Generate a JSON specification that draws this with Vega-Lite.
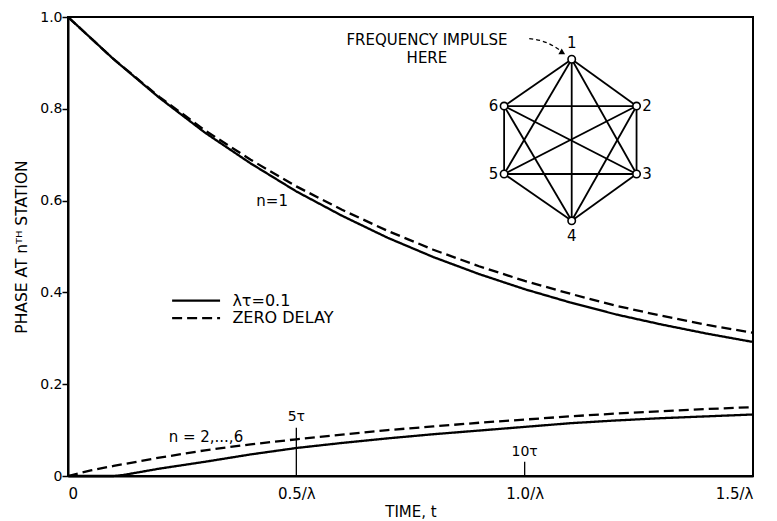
{
  "$schema": "https://vega.github.io/schema/vega-lite/v6.json",
  "width": 685,
  "height": 459,
  "autosize": "none",
  "padding": {"left": 68, "top": 17, "right": 24, "bottom": 45},
  "background": "white",
  "config": {
    "font": "DejaVu Sans",
    "view": {"stroke": "black", "strokeWidth": 2},
    "axis": {
      "domainColor": "black", "domainWidth": 2,
      "labelColor": "black", "titleColor": "black",
      "labelFont": "DejaVu Sans", "titleFont": "DejaVu Sans",
      "labelFontSize": 14, "titleFontSize": 14, "titleFontWeight": "normal",
      "grid": false
    }
  },
  "datasets": {
    "curves": [
      {"t": 0.0, "v": 1.0, "n": "1", "delay": "ZERO DELAY"},
      {"t": 0.1, "v": 0.908, "n": "1", "delay": "ZERO DELAY"},
      {"t": 0.2, "v": 0.826, "n": "1", "delay": "ZERO DELAY"},
      {"t": 0.3, "v": 0.753, "n": "1", "delay": "ZERO DELAY"},
      {"t": 0.4, "v": 0.689, "n": "1", "delay": "ZERO DELAY"},
      {"t": 0.5, "v": 0.631, "n": "1", "delay": "ZERO DELAY"},
      {"t": 0.6, "v": 0.580, "n": "1", "delay": "ZERO DELAY"},
      {"t": 0.7, "v": 0.534, "n": "1", "delay": "ZERO DELAY"},
      {"t": 0.8, "v": 0.493, "n": "1", "delay": "ZERO DELAY"},
      {"t": 0.9, "v": 0.457, "n": "1", "delay": "ZERO DELAY"},
      {"t": 1.0, "v": 0.425, "n": "1", "delay": "ZERO DELAY"},
      {"t": 1.1, "v": 0.397, "n": "1", "delay": "ZERO DELAY"},
      {"t": 1.2, "v": 0.371, "n": "1", "delay": "ZERO DELAY"},
      {"t": 1.3, "v": 0.349, "n": "1", "delay": "ZERO DELAY"},
      {"t": 1.4, "v": 0.329, "n": "1", "delay": "ZERO DELAY"},
      {"t": 1.5, "v": 0.312, "n": "1", "delay": "ZERO DELAY"},
      {"t": 0.0, "v": 1.0, "n": "1", "delay": "λτ=0.1"},
      {"t": 0.1, "v": 0.908, "n": "1", "delay": "λτ=0.1"},
      {"t": 0.2, "v": 0.824, "n": "1", "delay": "λτ=0.1"},
      {"t": 0.3, "v": 0.748, "n": "1", "delay": "λτ=0.1"},
      {"t": 0.4, "v": 0.681, "n": "1", "delay": "λτ=0.1"},
      {"t": 0.5, "v": 0.620, "n": "1", "delay": "λτ=0.1"},
      {"t": 0.6, "v": 0.567, "n": "1", "delay": "λτ=0.1"},
      {"t": 0.7, "v": 0.519, "n": "1", "delay": "λτ=0.1"},
      {"t": 0.8, "v": 0.477, "n": "1", "delay": "λτ=0.1"},
      {"t": 0.9, "v": 0.440, "n": "1", "delay": "λτ=0.1"},
      {"t": 1.0, "v": 0.407, "n": "1", "delay": "λτ=0.1"},
      {"t": 1.1, "v": 0.378, "n": "1", "delay": "λτ=0.1"},
      {"t": 1.2, "v": 0.352, "n": "1", "delay": "λτ=0.1"},
      {"t": 1.3, "v": 0.330, "n": "1", "delay": "λτ=0.1"},
      {"t": 1.4, "v": 0.310, "n": "1", "delay": "λτ=0.1"},
      {"t": 1.5, "v": 0.292, "n": "1", "delay": "λτ=0.1"},
      {"t": 0.0, "v": 0.0, "n": "2-6", "delay": "ZERO DELAY"},
      {"t": 0.05, "v": 0.012, "n": "2-6", "delay": "ZERO DELAY"},
      {"t": 0.1, "v": 0.022, "n": "2-6", "delay": "ZERO DELAY"},
      {"t": 0.2, "v": 0.040, "n": "2-6", "delay": "ZERO DELAY"},
      {"t": 0.3, "v": 0.056, "n": "2-6", "delay": "ZERO DELAY"},
      {"t": 0.4, "v": 0.069, "n": "2-6", "delay": "ZERO DELAY"},
      {"t": 0.5, "v": 0.080, "n": "2-6", "delay": "ZERO DELAY"},
      {"t": 0.6, "v": 0.090, "n": "2-6", "delay": "ZERO DELAY"},
      {"t": 0.7, "v": 0.100, "n": "2-6", "delay": "ZERO DELAY"},
      {"t": 0.8, "v": 0.108, "n": "2-6", "delay": "ZERO DELAY"},
      {"t": 0.9, "v": 0.116, "n": "2-6", "delay": "ZERO DELAY"},
      {"t": 1.0, "v": 0.123, "n": "2-6", "delay": "ZERO DELAY"},
      {"t": 1.1, "v": 0.130, "n": "2-6", "delay": "ZERO DELAY"},
      {"t": 1.2, "v": 0.136, "n": "2-6", "delay": "ZERO DELAY"},
      {"t": 1.3, "v": 0.141, "n": "2-6", "delay": "ZERO DELAY"},
      {"t": 1.4, "v": 0.146, "n": "2-6", "delay": "ZERO DELAY"},
      {"t": 1.5, "v": 0.150, "n": "2-6", "delay": "ZERO DELAY"},
      {"t": 0.0, "v": 0.0, "n": "2-6", "delay": "λτ=0.1"},
      {"t": 0.1, "v": 0.0, "n": "2-6", "delay": "λτ=0.1"},
      {"t": 0.12, "v": 0.002, "n": "2-6", "delay": "λτ=0.1"},
      {"t": 0.2, "v": 0.016, "n": "2-6", "delay": "λτ=0.1"},
      {"t": 0.3, "v": 0.031, "n": "2-6", "delay": "λτ=0.1"},
      {"t": 0.4, "v": 0.047, "n": "2-6", "delay": "λτ=0.1"},
      {"t": 0.5, "v": 0.061, "n": "2-6", "delay": "λτ=0.1"},
      {"t": 0.6, "v": 0.072, "n": "2-6", "delay": "λτ=0.1"},
      {"t": 0.7, "v": 0.082, "n": "2-6", "delay": "λτ=0.1"},
      {"t": 0.8, "v": 0.091, "n": "2-6", "delay": "λτ=0.1"},
      {"t": 0.9, "v": 0.099, "n": "2-6", "delay": "λτ=0.1"},
      {"t": 1.0, "v": 0.107, "n": "2-6", "delay": "λτ=0.1"},
      {"t": 1.1, "v": 0.115, "n": "2-6", "delay": "λτ=0.1"},
      {"t": 1.2, "v": 0.121, "n": "2-6", "delay": "λτ=0.1"},
      {"t": 1.3, "v": 0.126, "n": "2-6", "delay": "λτ=0.1"},
      {"t": 1.4, "v": 0.130, "n": "2-6", "delay": "λτ=0.1"},
      {"t": 1.5, "v": 0.134, "n": "2-6", "delay": "λτ=0.1"}
    ],
    "legendRows": [
      {"delay": "λτ=0.1", "t": 0.228, "t2": 0.333, "v": 0.382, "lt": 0.36},
      {"delay": "ZERO DELAY", "t": 0.228, "t2": 0.333, "v": 0.344, "lt": 0.36}
    ],
    "nodes": [
      {"node": "1", "t": 1.103, "v": 0.908},
      {"node": "2", "t": 1.245, "v": 0.806},
      {"node": "3", "t": 1.245, "v": 0.658},
      {"node": "4", "t": 1.103, "v": 0.556},
      {"node": "5", "t": 0.955, "v": 0.658},
      {"node": "6", "t": 0.955, "v": 0.806}
    ],
    "edges": [
      {"e": "1-2", "t": 1.103, "v": 0.908, "t2": 1.245, "v2": 0.806},
      {"e": "1-3", "t": 1.103, "v": 0.908, "t2": 1.245, "v2": 0.658},
      {"e": "1-4", "t": 1.103, "v": 0.908, "t2": 1.103, "v2": 0.556},
      {"e": "1-5", "t": 1.103, "v": 0.908, "t2": 0.955, "v2": 0.658},
      {"e": "1-6", "t": 1.103, "v": 0.908, "t2": 0.955, "v2": 0.806},
      {"e": "2-3", "t": 1.245, "v": 0.806, "t2": 1.245, "v2": 0.658},
      {"e": "2-4", "t": 1.245, "v": 0.806, "t2": 1.103, "v2": 0.556},
      {"e": "2-5", "t": 1.245, "v": 0.806, "t2": 0.955, "v2": 0.658},
      {"e": "2-6", "t": 1.245, "v": 0.806, "t2": 0.955, "v2": 0.806},
      {"e": "3-4", "t": 1.245, "v": 0.658, "t2": 1.103, "v2": 0.556},
      {"e": "3-5", "t": 1.245, "v": 0.658, "t2": 0.955, "v2": 0.658},
      {"e": "3-6", "t": 1.245, "v": 0.658, "t2": 0.955, "v2": 0.806},
      {"e": "4-5", "t": 1.103, "v": 0.556, "t2": 0.955, "v2": 0.658},
      {"e": "4-6", "t": 1.103, "v": 0.556, "t2": 0.955, "v2": 0.806},
      {"e": "5-6", "t": 0.955, "v": 0.658, "t2": 0.955, "v2": 0.806}
    ],
    "nodeLabels": [
      {"label": "1", "t": 1.103, "v": 0.943},
      {"label": "2", "t": 1.268, "v": 0.806},
      {"label": "3", "t": 1.268, "v": 0.658},
      {"label": "4", "t": 1.103, "v": 0.523},
      {"label": "5", "t": 0.932, "v": 0.658},
      {"label": "6", "t": 0.932, "v": 0.806}
    ],
    "markers": [
      {"label": "5τ", "t": 0.5, "v": 0.0, "v2": 0.105, "lv": 0.129},
      {"label": "10τ", "t": 1.0, "v": 0.0, "v2": 0.031, "lv": 0.053}
    ],
    "notes": [
      {"text": "n=1", "t": 0.447, "v": 0.60},
      {"text": "n = 2,...,6", "t": 0.302, "v": 0.085},
      {"text": "FREQUENCY IMPULSE", "t": 0.786, "v": 0.950},
      {"text": "HERE", "t": 0.786, "v": 0.910}
    ],
    "arrow": [
      {"i": 0, "t": 1.01, "v": 0.953},
      {"i": 1, "t": 1.051, "v": 0.943},
      {"i": 2, "t": 1.077, "v": 0.928}
    ],
    "arrowHead": [
      {"t": 1.083, "v": 0.922}
    ]
  },
  "layer": [
    {
      "data": {"name": "curves"},
      "mark": {"type": "line", "color": "black", "strokeWidth": 2.3},
      "encoding": {
        "x": {
          "field": "t", "type": "quantitative",
          "scale": {"domain": [0, 1.5], "nice": false, "zero": false},
          "axis": {
            "values": [0, 0.5, 1.0, 1.5], "ticks": false,
            "labelExpr": "datum.value == 0 ? '0' : format(datum.value, '.1f') + '/λ'",
            "labelPadding": 10, "labelFontSize": 15,
            "title": "TIME, t", "titleFontSize": 15, "titlePadding": 3
          }
        },
        "y": {
          "field": "v", "type": "quantitative",
          "scale": {"domain": [0, 1], "nice": false},
          "axis": {
            "values": [0, 0.2, 0.4, 0.6, 0.8, 1.0],
            "labelExpr": "datum.value == 0 ? '0' : format(datum.value, '.1f')",
            "tickColor": "black", "tickSize": 6, "tickWidth": 1.5,
            "labelPadding": 0, "labelFontSize": 14,
            "title": "PHASE AT nᵀᴴ STATION", "titleFontSize": 15.5, "titlePadding": 10
          }
        },
        "detail": {"field": "n"},
        "strokeDash": {
          "field": "delay", "type": "nominal",
          "scale": {"domain": ["λτ=0.1", "ZERO DELAY"], "range": [[1, 0], [10, 5]]},
          "legend": null
        }
      }
    },
    {
      "data": {"name": "legendRows"},
      "mark": {"type": "rule", "color": "black", "strokeWidth": 2.3},
      "encoding": {
        "x": {"field": "t", "type": "quantitative"},
        "x2": {"field": "t2"},
        "y": {"field": "v", "type": "quantitative"},
        "strokeDash": {"field": "delay", "type": "nominal", "legend": null}
      }
    },
    {
      "data": {"name": "legendRows"},
      "mark": {"type": "text", "fontSize": 16, "color": "black", "align": "left", "baseline": "middle"},
      "encoding": {
        "x": {"field": "lt", "type": "quantitative"},
        "y": {"field": "v", "type": "quantitative"},
        "text": {"field": "delay"}
      }
    },
    {
      "data": {"name": "edges"},
      "mark": {"type": "rule", "color": "black", "strokeWidth": 1.8},
      "encoding": {
        "x": {"field": "t", "type": "quantitative"},
        "y": {"field": "v", "type": "quantitative"},
        "x2": {"field": "t2"},
        "y2": {"field": "v2"}
      }
    },
    {
      "data": {"name": "nodes"},
      "mark": {"type": "point", "shape": "circle", "filled": true, "fill": "white", "stroke": "black", "strokeWidth": 1.6, "size": 55, "opacity": 1},
      "encoding": {
        "x": {"field": "t", "type": "quantitative"},
        "y": {"field": "v", "type": "quantitative"}
      }
    },
    {
      "data": {"name": "nodeLabels"},
      "mark": {"type": "text", "fontSize": 15, "color": "black", "align": "center", "baseline": "middle"},
      "encoding": {
        "x": {"field": "t", "type": "quantitative"},
        "y": {"field": "v", "type": "quantitative"},
        "text": {"field": "label"}
      }
    },
    {
      "data": {"name": "markers"},
      "mark": {"type": "rule", "color": "black", "strokeWidth": 1.3},
      "encoding": {
        "x": {"field": "t", "type": "quantitative"},
        "y": {"field": "v", "type": "quantitative"},
        "y2": {"field": "v2"}
      }
    },
    {
      "data": {"name": "markers"},
      "mark": {"type": "text", "fontSize": 14, "color": "black", "align": "center", "baseline": "middle"},
      "encoding": {
        "x": {"field": "t", "type": "quantitative"},
        "y": {"field": "lv", "type": "quantitative"},
        "text": {"field": "label"}
      }
    },
    {
      "data": {"name": "notes"},
      "mark": {"type": "text", "fontSize": 15, "color": "black", "align": "center", "baseline": "middle"},
      "encoding": {
        "x": {"field": "t", "type": "quantitative"},
        "y": {"field": "v", "type": "quantitative"},
        "text": {"field": "text"}
      }
    },
    {
      "data": {"name": "arrow"},
      "mark": {"type": "line", "color": "black", "strokeWidth": 1.3, "strokeDash": [4, 3], "interpolate": "monotone"},
      "encoding": {
        "x": {"field": "t", "type": "quantitative"},
        "y": {"field": "v", "type": "quantitative"},
        "order": {"field": "i"}
      }
    },
    {
      "data": {"name": "arrowHead"},
      "mark": {"type": "point", "shape": "triangle-up", "filled": true, "color": "black", "size": 45, "angle": 120, "opacity": 1},
      "encoding": {
        "x": {"field": "t", "type": "quantitative"},
        "y": {"field": "v", "type": "quantitative"}
      }
    }
  ]
}
